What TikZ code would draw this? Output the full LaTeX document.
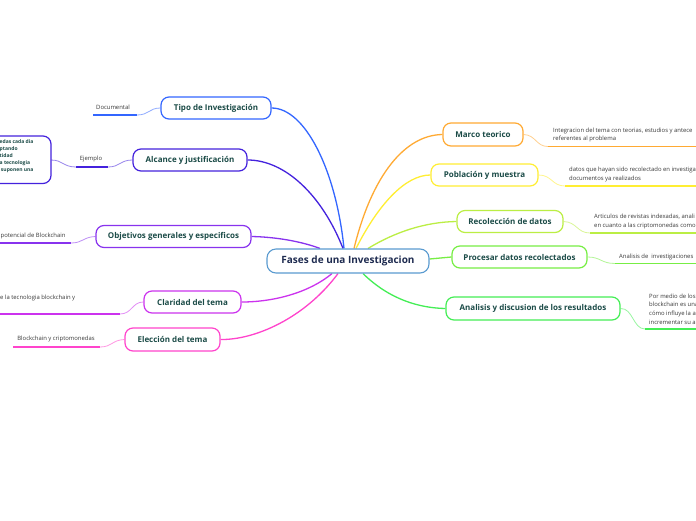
\documentclass[tikz,border=0pt]{standalone}
\usepackage{fontspec}
\setmainfont{Open Sans}
\usetikzlibrary{backgrounds}
\definecolor{cBlue}{HTML}{3366FF}
\definecolor{cIndigo}{HTML}{4422DD}
\definecolor{cPurple}{HTML}{8833EE}
\definecolor{cMagenta}{HTML}{CC33EE}
\definecolor{cPink}{HTML}{FF44CC}
\definecolor{cOrange}{HTML}{FFAA33}
\definecolor{cYellow}{HTML}{FFEE33}
\definecolor{cLime}{HTML}{BBEE44}
\definecolor{cGreen}{HTML}{77EE44}
\definecolor{cGreenB}{HTML}{44EE55}
\definecolor{cCentral}{HTML}{5A9BD0}
\definecolor{tTeal}{HTML}{1B4B47}
\definecolor{tNavy}{HTML}{1E2B50}
\definecolor{tGray}{HTML}{3A3A3A}
\begin{document}
\begin{tikzpicture}[x=1pt,y=1pt,
  topic/.style={draw=#1, line width=1.2pt, rounded corners=8pt, fill=white,
    text=tTeal, font=\fontsize{8}{9}\selectfont\bfseries, inner sep=0pt, minimum height=22pt},
  central/.style={draw=cCentral, line width=1.1pt, rounded corners=9pt, fill=white,
    text=tNavy, font=\fontsize{10}{11}\selectfont\bfseries, inner sep=0pt, minimum height=24pt, minimum width=162pt},
  subtxt/.style={text=tGray, font=\fontsize{5.9}{8.6}\selectfont, inner sep=0pt, align=left},
  uline/.style={draw=#1, line width=1.9pt},
  mainlink/.style={draw=#1, line width=1.3pt},
  sublink/.style={draw=#1!55, line width=0.8pt}
]
\useasboundingbox (0,0) rectangle (696,-520);
\clip (0,0) rectangle (696,-520);

% central
\node[central] (fases) at (348,-261) {Fases de una Investigacion};

% left topics
\node[topic=cBlue, minimum width=110pt] (tipo) at (216,-108) {Tipo de Investigación};
\node[topic=cIndigo, minimum width=114pt] (alc) at (190,-160) {Alcance y justificación};
\node[topic=cPurple, minimum width=155pt] (obj) at (173.5,-236.5) {Objetivos generales y especificos};
\node[topic=cMagenta, minimum width=97pt] (cla) at (192.5,-302) {Claridad del tema};
\node[topic=cPink, minimum width=95pt, minimum height=23pt] (ele) at (172.5,-339.5) {Elección del tema};

% right topics
\node[topic=cOrange, minimum width=80pt, minimum height=23pt] (mar) at (483,-134.5) {Marco teorico};
\node[topic=cYellow, minimum width=107pt] (pob) at (484.5,-175) {Población y muestra};
\node[topic=cLime, minimum width=106pt] (rec) at (510,-221.5) {Recolección de datos};
\node[topic=cGreen, minimum width=135pt] (pro) at (519.5,-257) {Procesar datos recolectados};
\node[topic=cGreenB, minimum width=174pt, minimum height=23pt] (ana) at (533,-308.5) {Analisis y discusion de los resultados};

% left box (partly outside)
\draw[draw=cIndigo, line width=1.2pt, rounded corners=8pt, fill=white] (-80,-136) rectangle (51,-183.5);
\node (lbox) at (51,-160) {};
\node[anchor=north west, text=tTeal, font=\fontsize{5}{7.1}\selectfont\bfseries, inner sep=0pt, align=left] (lboxtxt) at (-0.5,-139)
  {edas cada dia\\ptando\\tidad\\a tecnologia\\\ suponen una};

% sub texts left
\node[subtxt] (doc) at (113,-107) {Documental};
\coordinate (docL) at (93,-115); \coordinate (docR) at (137,-115);
\node[subtxt] (ejem) at (91,-159) {Ejemplo};
\coordinate (ejL) at (76,-167); \coordinate (ejR) at (108,-167);
\node[subtxt, anchor=west] (pot) at (0.5,-235.5) {potencial de Blockchain};
\coordinate (potL) at (0,-243); \coordinate (potR) at (71,-243);
\node[subtxt, anchor=west] (tec) at (0,-298) {e la tecnologia blockchain y};
\coordinate (tecL) at (0,-314); \coordinate (tecR) at (120,-314);
\node[subtxt] (bc) at (56,-338.5) {Blockchain y criptomonedas};
\coordinate (bcL) at (13,-347); \coordinate (bcR) at (100,-347);

% sub texts right
\node[subtxt, anchor=west] (martx) at (553,-135) {Integracion del tema con teorias, estudios y antece\\referentes al problema};
\coordinate (marL) at (548,-146.5); \coordinate (marR) at (700,-146.5);
\node[subtxt, anchor=west] (pobtx) at (569,-174.5) {datos que hayan sido recolectado en investiga\\documentos ya realizados};
\coordinate (pobL) at (565,-186); \coordinate (pobR) at (700,-186);
\node[subtxt, anchor=west] (rectx) at (594,-221.5) {Articulos de revistas indexadas, anali\\en cuanto a las criptomonedas como};
\coordinate (recL) at (590,-233); \coordinate (recR) at (700,-233);
\node[subtxt, anchor=west] (protx) at (619,-257) {Analisis de\ \ investigaciones};
\coordinate (proL) at (615,-263.5); \coordinate (proR) at (700,-263.5);
\node[subtxt, anchor=west] (anatx) at (649,-309) {Por medio de los\\blockchain es una\\cómo influye la a\\incrementar su a};
\coordinate (anaL) at (645,-329); \coordinate (anaR) at (700,-329);

\begin{scope}[on background layer]
  \fill[white] (0,0) rectangle (696,-520);
  % main links
  \draw[mainlink=cBlue] ([xshift=-4pt]fases.north) .. controls (336,-170) and (305,-108) .. (tipo.east);
  \draw[mainlink=cIndigo] ([xshift=-5pt]fases.north) .. controls (322,-195) and (285,-160) .. (alc.east);
  \draw[mainlink=cPurple] ([xshift=-28pt]fases.north) .. controls (300,-241) and (275,-237) .. (obj.east);
  \draw[mainlink=cMagenta] ([xshift=-16pt]fases.south) .. controls (310,-292) and (275,-302) .. (cla.east);
  \draw[mainlink=cPink] ([xshift=-10pt]fases.south) .. controls (305,-318) and (255,-340) .. (ele.east);
  \draw[mainlink=cOrange] ([xshift=6pt]fases.north) .. controls (372,-175) and (405,-135) .. (mar.west);
  \draw[mainlink=cYellow] ([xshift=8pt]fases.north) .. controls (378,-205) and (405,-175) .. (pob.west);
  \draw[mainlink=cLime] ([xshift=20pt]fases.north) .. controls (395,-232) and (425,-222) .. (rec.west);
  \draw[mainlink=cGreen] ([yshift=2pt]fases.east) -- (pro.west);
  \draw[mainlink=cGreenB] ([xshift=15pt]fases.south) .. controls (390,-300) and (420,-308) .. (ana.west);
  % sub links
  \draw[sublink=cBlue] (tipo.west) .. controls (149,-108) and (149,-115) .. (docR);
  \draw[sublink=cIndigo] (alc.west) .. controls (120,-160) and (120,-167) .. (ejR);
  \draw[sublink=cIndigo] (ejL) .. controls (63,-167) and (63,-160) .. (lbox.center);
  \draw[sublink=cPurple] (obj.west) .. controls (83,-237) and (83,-243) .. (potR);
  \draw[sublink=cMagenta] (cla.west) .. controls (132,-302) and (132,-314) .. (tecR);
  \draw[sublink=cPink] (ele.west) .. controls (112,-340) and (112,-347) .. (bcR);
  \draw[sublink=cOrange] (mar.east) .. controls (536,-135) and (536,-146.5) .. (marL);
  \draw[sublink=cYellow] (pob.east) .. controls (552,-175) and (552,-186) .. (pobL);
  \draw[sublink=cLime] (rec.east) .. controls (577,-222) and (577,-233) .. (recL);
  \draw[sublink=cGreen] (pro.east) .. controls (601,-257) and (601,-263.5) .. (proL);
  \draw[sublink=cGreenB] (ana.east) .. controls (633,-308) and (633,-329) .. (anaL);
\end{scope}

% underlines
\draw[uline=cBlue] (docL) -- (docR);
\draw[uline=cIndigo] (ejL) -- (ejR);
\draw[uline=cPurple] (potL) -- (potR);
\draw[uline=cMagenta] (tecL) -- (tecR);
\draw[uline=cPink] (bcL) -- (bcR);
\draw[uline=cOrange] (marL) -- (marR);
\draw[uline=cYellow] (pobL) -- (pobR);
\draw[uline=cLime] (recL) -- (recR);
\draw[uline=cGreen] (proL) -- (proR);
\draw[uline=cGreenB] (anaL) -- (anaR);
\end{tikzpicture}
\end{document}
